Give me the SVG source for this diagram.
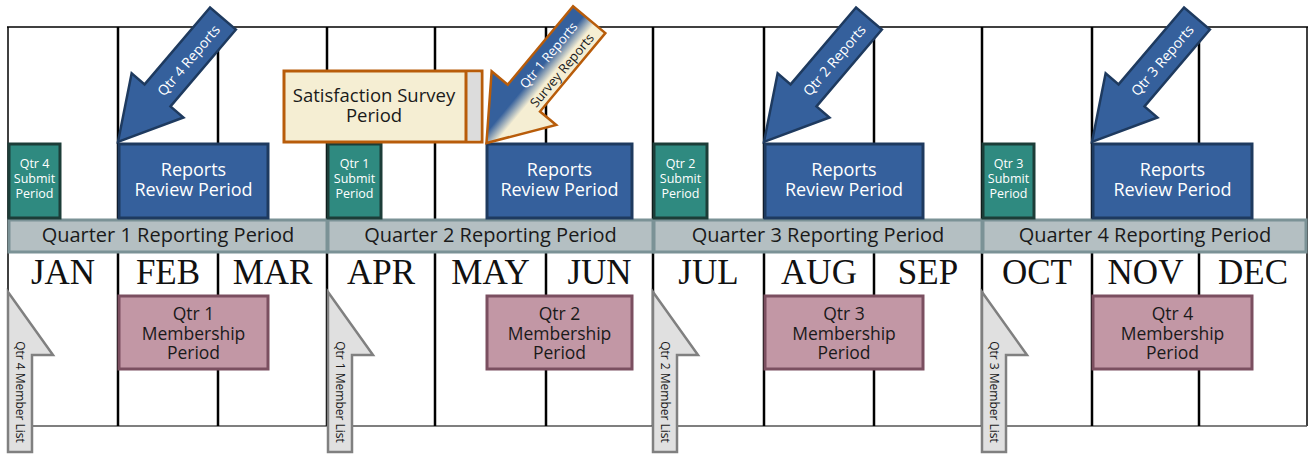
<svg xmlns="http://www.w3.org/2000/svg" width="1309" height="455" viewBox="0 0 1309 455">
<defs>
<linearGradient id="survGrad" x1="0" y1="0" x2="0" y2="1">
<stop offset="0" stop-color="#f5eed3"/>
<stop offset="0.42" stop-color="#f5eed3"/>
<stop offset="0.58" stop-color="#35609c"/>
<stop offset="1" stop-color="#35609c"/>
</linearGradient>
<polygon id="blueArrow" points="0,-17 101,-17 101,-34 162,0 101,34 101,17 0,17"/>
<path id="memArrow" d="M0,292 L45,355 L24,355 L24,452 L0,452 Z"/>
<style>
.grid{stroke:#000;stroke-width:2.5;fill:none}
.frame{stroke:#000;stroke-width:1.5;fill:none}
.bot{stroke:#555;stroke-width:1.5;fill:none}
.bar{fill:#b4bfc2;stroke:#7b9296;stroke-width:3}
.barT{font-family:"Open Sans","Liberation Sans",sans-serif;font-size:20px;fill:#1a1a1a;text-anchor:middle}
.month{font-family:"Liberation Serif","Times New Roman",serif;font-size:35px;fill:#111;text-anchor:middle}
.submit{fill:#2f8a80;stroke:#1c3d38;stroke-width:3}
.subT{font-family:"Open Sans","Liberation Sans",sans-serif;font-size:12.5px;fill:#fff;text-anchor:middle}
.review{fill:#35609c;stroke:#1e3a5f;stroke-width:3}
.revT{font-family:"Open Sans","Liberation Sans",sans-serif;font-size:18px;fill:#fff;text-anchor:middle}
.mem{fill:#c297a5;stroke:#7b4f60;stroke-width:3}
.memT{font-family:"Open Sans","Liberation Sans",sans-serif;font-size:17.5px;fill:#1a1a1a;text-anchor:middle}
.barrow{fill:#35609c;stroke:#1e3a5f;stroke-width:2.5;stroke-linejoin:miter}
.arT{font-family:"Open Sans","Liberation Sans",sans-serif;font-size:14px;fill:#fff;text-anchor:middle;dominant-baseline:central}
.garrow{fill:#e0e0e0;stroke:#808080;stroke-width:2.5}
.gT{font-family:"Open Sans","Liberation Sans",sans-serif;font-size:12px;fill:#1a1a1a;text-anchor:middle;dominant-baseline:central}
.surv{fill:#f5eed3;stroke:#b85c0a;stroke-width:3}
.survT{font-family:"Open Sans","Liberation Sans",sans-serif;font-size:18.5px;fill:#1a1a1a;text-anchor:middle}
</style>
</defs>
<rect x="0" y="0" width="1309" height="455" fill="#fff"/>

<g id="grid">
<line class="frame" x1="7" y1="27" x2="1308" y2="27"/>
<line class="frame" x1="8" y1="27" x2="8" y2="426"/>
<line class="frame" x1="1307" y1="27" x2="1307" y2="426"/>
<line class="bot" x1="8" y1="426" x2="1307" y2="426"/>
<line class="grid" x1="118" y1="27" x2="118" y2="426"/>
<line class="grid" x1="218" y1="27" x2="218" y2="426"/>
<line class="grid" x1="327" y1="27" x2="327" y2="426"/>
<line class="grid" x1="435" y1="27" x2="435" y2="426"/>
<line class="grid" x1="546" y1="27" x2="546" y2="426"/>
<line class="grid" x1="653" y1="27" x2="653" y2="426"/>
<line class="grid" x1="764" y1="27" x2="764" y2="426"/>
<line class="grid" x1="874" y1="27" x2="874" y2="426"/>
<line class="grid" x1="982" y1="27" x2="982" y2="426"/>
<line class="grid" x1="1092" y1="27" x2="1092" y2="426"/>
<line class="grid" x1="1199" y1="27" x2="1199" y2="426"/>
</g>

<g id="months">
<text class="month" x="63" y="284">JAN</text>
<text class="month" x="168" y="284">FEB</text>
<text class="month" x="272.5" y="284">MAR</text>
<text class="month" x="381" y="284">APR</text>
<text class="month" x="490.5" y="284">MAY</text>
<text class="month" x="599.5" y="284">JUN</text>
<text class="month" x="708.5" y="284">JUL</text>
<text class="month" x="819" y="284">AUG</text>
<text class="month" x="928" y="284">SEP</text>
<text class="month" x="1037" y="284">OCT</text>
<text class="month" x="1145.5" y="284">NOV</text>
<text class="month" x="1253" y="284">DEC</text>
</g>

<g id="bar-q1"><rect class="bar" x="9" y="220" width="318" height="32"/><text class="barT" x="168" y="242">Quarter 1 Reporting Period</text></g>
<g id="bar-q2"><rect class="bar" x="328" y="220" width="325" height="32"/><text class="barT" x="490.5" y="242">Quarter 2 Reporting Period</text></g>
<g id="bar-q3"><rect class="bar" x="654" y="220" width="328" height="32"/><text class="barT" x="818" y="242">Quarter 3 Reporting Period</text></g>
<g id="bar-q4"><rect class="bar" x="983" y="220" width="323" height="32"/><text class="barT" x="1145" y="242">Quarter 4 Reporting Period</text></g>

<g id="submit-q4"><rect class="submit" x="9" y="144" width="51" height="74"/><text class="subT"><tspan x="34.5" y="167.5">Qtr 4</tspan><tspan x="34.5" y="182.5">Submit</tspan><tspan x="34.5" y="197.5">Period</tspan></text></g>
<g id="submit-q1"><rect class="submit" x="328" y="144" width="53" height="74"/><text class="subT"><tspan x="354.5" y="167.5">Qtr 1</tspan><tspan x="354.5" y="182.5">Submit</tspan><tspan x="354.5" y="197.5">Period</tspan></text></g>
<g id="submit-q2"><rect class="submit" x="654" y="144" width="53" height="74"/><text class="subT"><tspan x="680.5" y="167.5">Qtr 2</tspan><tspan x="680.5" y="182.5">Submit</tspan><tspan x="680.5" y="197.5">Period</tspan></text></g>
<g id="submit-q3"><rect class="submit" x="983" y="144" width="51" height="74"/><text class="subT"><tspan x="1008.5" y="167.5">Qtr 3</tspan><tspan x="1008.5" y="182.5">Submit</tspan><tspan x="1008.5" y="197.5">Period</tspan></text></g>

<g id="review-q4"><rect class="review" x="119" y="144" width="149" height="74"/><text class="revT"><tspan x="193.5" y="176">Reports</tspan><tspan x="193.5" y="195.5">Review Period</tspan></text></g>
<g id="review-q1"><rect class="review" x="487" y="144" width="145" height="74"/><text class="revT"><tspan x="559.5" y="176">Reports</tspan><tspan x="559.5" y="195.5">Review Period</tspan></text></g>
<g id="review-q2"><rect class="review" x="765" y="144" width="158" height="74"/><text class="revT"><tspan x="844" y="176">Reports</tspan><tspan x="844" y="195.5">Review Period</tspan></text></g>
<g id="review-q3"><rect class="review" x="1093" y="144" width="159" height="74"/><text class="revT"><tspan x="1172.5" y="176">Reports</tspan><tspan x="1172.5" y="195.5">Review Period</tspan></text></g>

<g id="membership-q1"><rect class="mem" x="119" y="296" width="149" height="73"/><text class="memT"><tspan x="193.5" y="320">Qtr 1</tspan><tspan x="193.5" y="339.5">Membership</tspan><tspan x="193.5" y="359">Period</tspan></text></g>
<g id="membership-q2"><rect class="mem" x="487" y="296" width="145" height="73"/><text class="memT"><tspan x="559.5" y="320">Qtr 2</tspan><tspan x="559.5" y="339.5">Membership</tspan><tspan x="559.5" y="359">Period</tspan></text></g>
<g id="membership-q3"><rect class="mem" x="765" y="296" width="158" height="73"/><text class="memT"><tspan x="844" y="320">Qtr 3</tspan><tspan x="844" y="339.5">Membership</tspan><tspan x="844" y="359">Period</tspan></text></g>
<g id="membership-q4"><rect class="mem" x="1093" y="296" width="159" height="73"/><text class="memT"><tspan x="1172.5" y="320">Qtr 4</tspan><tspan x="1172.5" y="339.5">Membership</tspan><tspan x="1172.5" y="359">Period</tspan></text></g>

<g id="survey-period">
<rect class="surv" x="284" y="71" width="198" height="71"/>
<rect x="466" y="72.5" width="14.5" height="68" fill="#dcdcdc"/>
<line x1="466" y1="71" x2="466" y2="142" stroke="#b85c0a" stroke-width="3"/>
<text class="survT"><tspan x="374" y="102">Satisfaction Survey</tspan><tspan x="374" y="122">Period</tspan></text>
</g>

<g id="connectors">
<g id="arrow-q4-reports"><use href="#blueArrow" class="barrow" transform="translate(223,18.5) rotate(130.4)"/><text class="arT" transform="translate(188.3,60) rotate(-49.6)">Qtr 4 Reports</text></g>
<g id="arrow-q2-reports"><use href="#blueArrow" class="barrow" transform="translate(869,18.5) rotate(130.4)"/><text class="arT" transform="translate(834,60) rotate(-49.6)">Qtr 2 Reports</text></g>
<g id="arrow-q3-reports"><use href="#blueArrow" class="barrow" transform="translate(1197,18.5) rotate(130.4)"/><text class="arT" transform="translate(1162,60) rotate(-49.6)">Qtr 3 Reports</text></g>
<g id="arrow-q1-survey">
<polygon points="0,-21 102,-21 102,-42 160.5,0 102,42 102,21 0,21" fill="url(#survGrad)" stroke="#b85c0a" stroke-width="2.5" transform="translate(589.2,19.7) rotate(129.8)"/>
<text class="arT" transform="translate(548.3,55) rotate(-50.2)" style="font-size:13px">Qtr 1 Reports</text>
<text class="arT" transform="translate(561.7,70) rotate(-50.2)" style="font-size:13px;fill:#1a1a1a">Survey Reports</text>
</g>
<g id="member-q4"><use href="#memArrow" class="garrow" transform="translate(8,0)"/><text class="gT" transform="translate(20,392) rotate(90)">Qtr 4 Member List</text></g>
<g id="member-q1"><use href="#memArrow" class="garrow" transform="translate(328,0)"/><text class="gT" transform="translate(340,392) rotate(90)">Qtr 1 Member List</text></g>
<g id="member-q2"><use href="#memArrow" class="garrow" transform="translate(653,0)"/><text class="gT" transform="translate(665,392) rotate(90)">Qtr 2 Member List</text></g>
<g id="member-q3"><use href="#memArrow" class="garrow" transform="translate(982,0)"/><text class="gT" transform="translate(994,392) rotate(90)">Qtr 3 Member List</text></g>
</g>
</svg>
